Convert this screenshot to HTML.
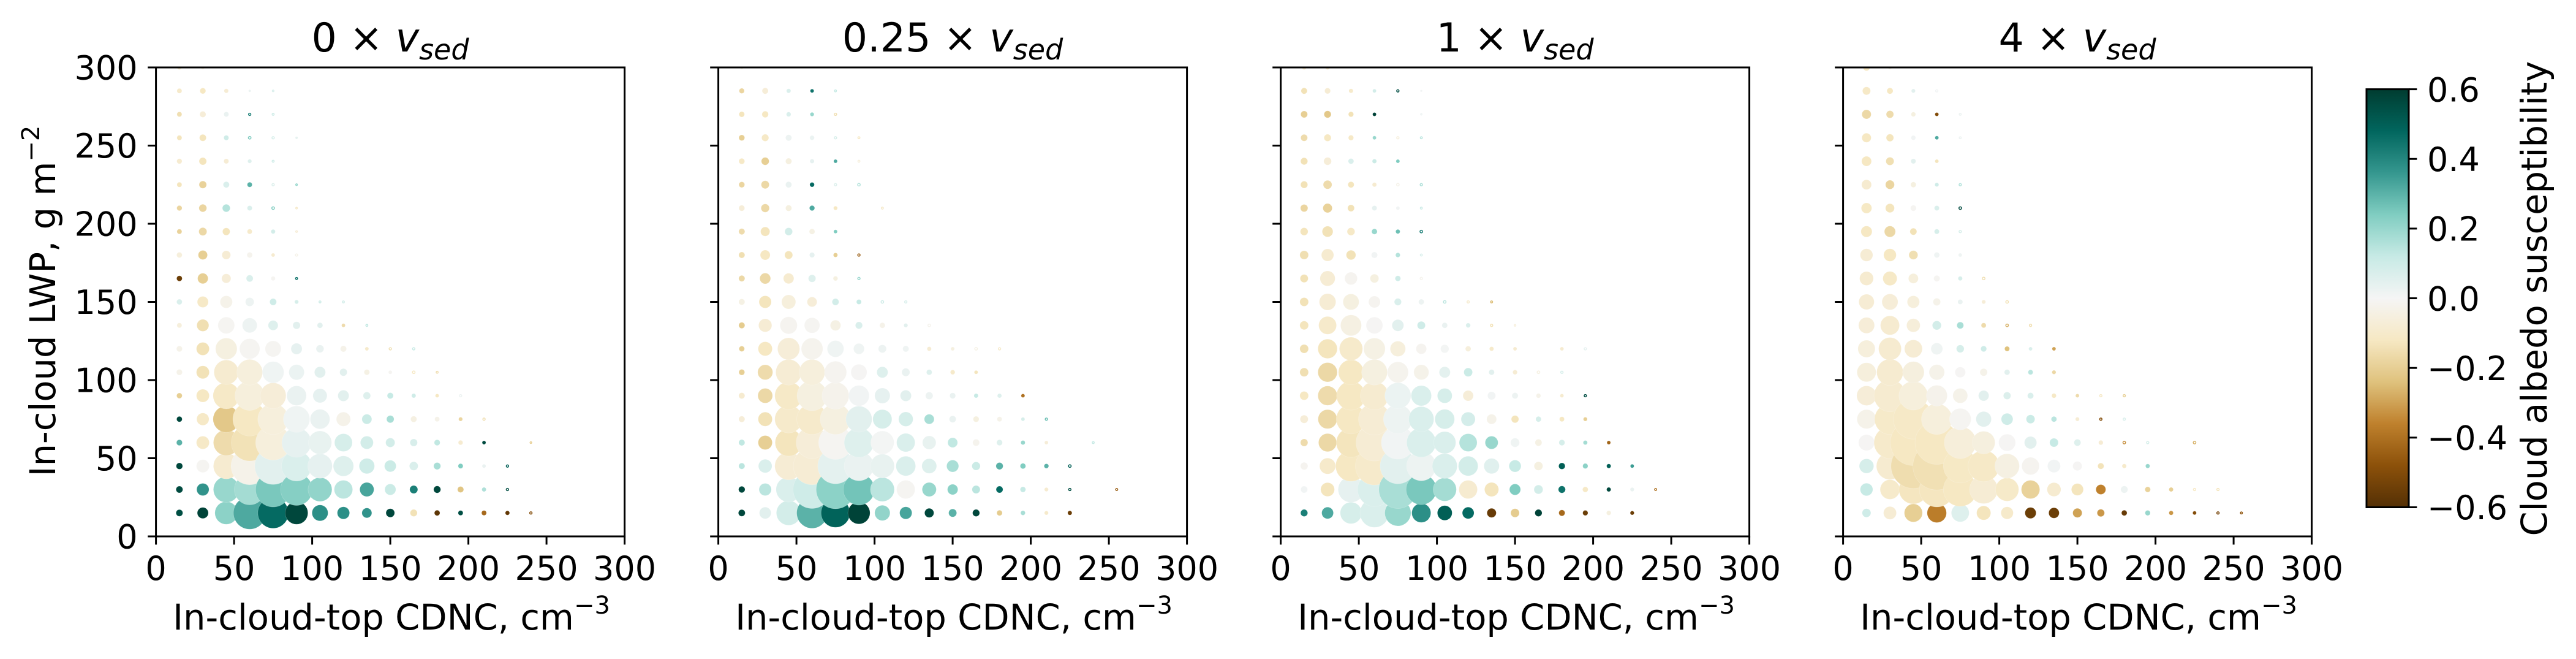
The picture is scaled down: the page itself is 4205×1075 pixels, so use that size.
<!DOCTYPE html>
<html lang="en">
<head>
<meta charset="utf-8">
<title>Cloud albedo susceptibility</title>
<style>
html,body{margin:0;padding:0;background:#fff;width:4205px;height:1075px;overflow:hidden}
svg{display:block}
text{font-family:"DejaVu Sans","Liberation Sans",sans-serif;fill:#000}
</style>
</head>
<body>
<svg id="fig" xmlns="http://www.w3.org/2000/svg" width="4205" height="1075" viewBox="0 0 4205 1075">
<rect x="0" y="0" width="4205" height="1075" fill="#fff"/>
<defs>
<linearGradient id="cbarGrad" x1="0" y1="1" x2="0" y2="0"></linearGradient>
<clipPath id="clip0"><rect x="254.6" y="110" width="765" height="765"/></clipPath>
<clipPath id="clip1"><rect x="1172.6" y="110" width="765" height="765"/></clipPath>
<clipPath id="clip2"><rect x="2090.6" y="110" width="765" height="765"/></clipPath>
<clipPath id="clip3"><rect x="3008.6" y="110" width="765" height="765"/></clipPath>
</defs>
<g id="panels"></g>
<text x="637" y="84" text-anchor="middle" font-size="65">0 × <tspan font-style="italic">v</tspan><tspan font-style="italic" font-size="46" dy="13">sed</tspan></text>
<text x="1555" y="84" text-anchor="middle" font-size="65">0.25 × <tspan font-style="italic">v</tspan><tspan font-style="italic" font-size="46" dy="13">sed</tspan></text>
<text x="2473" y="84" text-anchor="middle" font-size="65">1 × <tspan font-style="italic">v</tspan><tspan font-style="italic" font-size="46" dy="13">sed</tspan></text>
<text x="3391" y="84" text-anchor="middle" font-size="65">4 × <tspan font-style="italic">v</tspan><tspan font-style="italic" font-size="46" dy="13">sed</tspan></text>
<text x="639" y="1027" text-anchor="middle" font-size="57.5">In-cloud-top CDNC, cm<tspan font-size="40" dy="-26">−3</tspan></text>
<text x="1557" y="1027" text-anchor="middle" font-size="57.5">In-cloud-top CDNC, cm<tspan font-size="40" dy="-26">−3</tspan></text>
<text x="2475" y="1027" text-anchor="middle" font-size="57.5">In-cloud-top CDNC, cm<tspan font-size="40" dy="-26">−3</tspan></text>
<text x="3393" y="1027" text-anchor="middle" font-size="57.5">In-cloud-top CDNC, cm<tspan font-size="40" dy="-26">−3</tspan></text>
<text transform="translate(90,491) rotate(-90)" text-anchor="middle" font-size="57.5">In-cloud LWP, g m<tspan font-size="40" dy="-26">−2</tspan></text>
<g id="cbar"></g>
<text transform="translate(4157,487) rotate(-90)" text-anchor="middle" font-size="57.5">Cloud albedo susceptibility</text>
</svg>
<script>
const cdncBins = [15,30,45,60,75,90,105,120,135,150,165,180,195,210,225,240,255];
const lwpBins = [15,30,45,60,75,90,105,120,135,150,165,180,195,210,225,240,255,270,285,300];
const xTickLabels = [0,50,100,150,200,250,300];
const yTickLabels = [0,50,100,150,200,250,300];
const cbarTickLabels = [-0.6,-0.4,-0.2,0.0,0.2,0.4,0.6];
const brbgColormap = ['#543005','#8c510a','#bf812d','#dfc27d','#f6e8c3','#f5f5f5','#c7eae5','#80cdc1','#35978f','#01665e','#003c30'];

const occurrence0x = [
[1.21,3.24,13.7,28.1,25,13.7,6.76,4,2.56,1.96,1.32,.81,.64,.64,.49,.25],
[1.21,4,17.6,25,32.5,27,15.2,9,5.29,3.24,1.69,1.32,1,.49,.25],
[1.1,4.41,17.6,37.2,36,24,16,10.9,6.25,3.61,1.96,1.32,.64,.36,.25],
[.9,4.41,17.6,36,32.5,23,14.4,8.41,4.41,2.25,1.44,.9,.56,.36,0,.16],
[.81,4,18.5,30.3,25,18.5,10.2,5.29,2.56,1.44,1,.64,.42,.25],
[.81,4.41,18.5,23,17.6,10.2,5.29,3.24,1.44,1,.49,.36,.25],
[.9,4.41,16,17.6,12.3,6.25,3.24,1.44,.81,.36,.3,.2],
[.9,4.41,12.3,10.9,6.76,3.24,1.56,1,.36,.25,.25],
[.64,3.8,7.29,5.76,2.56,1.44,.81,.36,.2],
[.81,3.24,4,1.96,1.21,.42,.2,.2],
[.81,2.89,2.25,1.21,.49,.2],
[.81,2.25,1.96,.81,.36,.25],
[.64,1.69,1.44,.64,.49,.16],
[.72,1.56,1.56,.64,.3,.16],
[.64,1.44,1,.64,.25,.16],
[.72,1.44,.64,.42,.2],
[.64,1.21,.64,.3,.25,.12],
[.64,1,.64,.25,.2],
[.64,.9,.49,.12,.16],
[.49,.36,.09,.09]
];
const susceptibility0x = [
[.55,.58,.22,.32,.47,.57,.38,.38,.37,.57,-.14,-.58,.55,-.42,-.57,-.5],
[.56,.37,.2,.18,.25,.23,.21,.14,.33,.11,.42,.57,-.23,.16,.55],
[.57,-.01,-.09,-.03,.05,.07,.04,.06,.1,.11,.07,.17,.24,.03,.5],
[.3,-.11,-.16,-.14,-.06,.04,.035,.08,.09,.09,.075,.13,-.09,.56,0,-.2],
[.57,-.11,-.22,-.12,-.06,.015,.03,-.03,.11,.17,-.045,-.03,-.18,-.15],
[-.2,-.12,-.11,-.06,-.07,.03,.04,.05,.06,.12,.1,-.12,.02],
[-.03,-.14,-.09,-.06,.015,.025,.05,.05,-.04,-.01,-.12,-.15],
[-.03,-.14,-.05,-.01,-.01,.04,.03,-.03,-.1,-.15,.12],
[-.06,-.15,-.01,.02,.06,.05,.05,-.16,.13],
[.07,-.11,-.03,.02,.1,.08,.1,.09],
[-.55,-.2,-.07,.07,-.01,.45],
[-.06,-.2,-.08,-.02,-.09,-.03],
[-.19,-.17,-.13,-.1,.09,-.08],
[-.18,-.18,.15,.07,.24,-.1],
[-.13,-.19,.07,.3,.06,.2],
[-.09,-.13,-.08,.06,.1],
[-.13,-.13,.1,.25,.08,.05],
[-.15,-.07,.03,.42,.1],
[-.1,-.12,-.08,.03,.07],
[-.1,-.05,-.05,-.1]
];

const occurrence025x = [
[1.21,3.61,16,25,22.1,13,6.25,4,2.25,1.69,1.32,.81,.56,.42,.49],
[1.1,4,16.8,38.4,39.7,26,15.2,9,5.29,2.89,1.69,1.21,.81,.42,.25,0,.2],
[1,4.84,20.3,37.2,33.6,23,15.2,10.2,5.76,3.8,1.82,1.32,.81,.56,.3],
[1,5.29,19.4,27,30.3,23,14.4,9,4.84,2.56,1.21,.9,.49,.36,0,.2],
[1,5.29,20.3,25,25,18.1,9.61,5.52,2.56,1.21,.9,.64,.36,.25],
[1,5.76,20.3,24,19.4,11.2,6.25,3.24,1.44,.9,.49,.49,.36],
[.9,6,17.6,17.6,13,6.76,3.24,1.69,.81,.56,.36],
[.81,5.29,13,12.3,7.29,3.06,1.69,1,.49,.36,.3,.25],
[1,4.62,7.84,6.25,2.89,1.32,.81,.42,.3],
[1,4,5.29,2.56,1.21,.64,.3,.25],
[1,3.06,2.89,1.44,.56,.25],
[1,2.56,1.69,.72,.49,.25],
[1,2.25,1.56,.81,.36],
[.9,1.82,1,.72,.42,0,.2],
[.9,1.69,1,.56,.25,.3],
[.9,1.56,1,.49,.36,.2],
[.9,1.32,1,.56,.25,.2],
[.81,1.1,.56,.42,.25],
[.72,1,.49,.36,.2],
[.25,0,.04]
];
const susceptibility025x = [
[.57,.05,.09,.3,.49,.58,.21,.33,.57,.3,.57,-.21,.17,-.1,-.55],
[.57,.14,.07,.1,.22,.26,.14,-.01,.2,.22,.14,.47,.12,-.09,.55,0,-.45],
[.14,.07,-.08,-.08,.045,.03,.035,.07,.06,.17,.11,.3,.24,.3,.5],
[.13,-.2,-.13,-.07,-.01,.06,.005,.07,.035,.13,-.02,.06,.2,-.07,0,.12],
[-.07,-.14,-.1,-.1,-.05,.05,.08,.08,.17,.03,-.05,-.03,.08,.27],
[-.09,-.17,-.11,-.05,-.025,.01,.04,.05,.02,.03,.12,.06,-.4],
[-.2,-.16,-.08,-.06,-.015,-.005,.06,.03,.06,-.1,-.13],
[-.2,-.12,-.07,-.02,.015,.015,.02,.015,-.08,-.05,-.04,-.1],
[-.21,-.08,-.015,-.01,-.04,.07,-.03,.05,-.02],
[-.04,-.13,-.06,-.07,.09,.12,.1,.07],
[-.17,-.17,-.09,.06,-.05,.2],
[-.15,-.12,-.13,.04,-.2,-.45],
[-.16,-.13,.09,-.04,.24],
[-.07,-.17,-.05,.32,-.12,0,-.1],
[-.18,-.17,.03,.47,.06,.15],
[-.11,-.2,-.05,.04,.32,-.06],
[-.2,-.11,.02,.025,.08,-.12],
[-.13,-.12,.07,.2,-.15],
[-.18,-.07,.07,.45,.12],
[-.05,0,.03]
];

const occurrence1x = [
[1.32,3.61,12.3,22.1,18.1,9.61,5.76,3.61,2.25,1.96,1.32,1,.72,.56,.42],
[1.21,5.06,17.6,30.3,38.4,24.5,14.4,9,5.29,3.24,2.1,1.32,.81,.49,.42,.2],
[1.44,6.76,25,38.4,33.6,23,16.4,10.2,6.25,3.8,1.96,1.1,.72,.49,.36],
[1.44,8.7,23,36,29.2,22.6,13,8.41,4.41,2.1,1.21,.9,.49,.36],
[1.69,9.61,23,27,22.1,16.8,10.2,5.29,2.56,1.44,.81,.64,.42],
[1.96,9.92,22.1,21.2,18.1,10.9,5.76,2.89,1.69,1,.56,.36,.25],
[1.96,9.92,16.8,17.6,11.6,6,3.24,1.96,.81,.56,.3,.25],
[1.96,9.92,14.4,12.3,6.25,2.89,1.82,.81,.49,.36,0,.36,.25],
[1.96,8.41,11.6,7.29,3.61,1.69,.81,.56,.25,.16],
[1.96,7.29,6.76,3.61,1.32,.81,.3,.25,.2],
[1.69,6,4.2,1.96,.81,.25],
[1.96,4,2.4,1,.56,.2],
[1.56,3.06,1.56,.81,.49,.3],
[1.44,2.25,1.21,.64,.36,.2],
[1.32,1.96,1,.49,.3,.25],
[1.32,1.56,.81,.49,.36],
[1.21,1.32,.72,.36,.25,.2],
[1.21,1.32,.72,.36,0,.12],
[1,.9,.49,.36,.25,.09],
[.49,.49]
];
const susceptibility1x = [
[.42,.32,.08,.07,.2,.38,.5,.47,-.56,-.21,.58,-.42,-.55,-.05,-.55],
[.01,-.13,.04,.07,.17,.25,.18,-.09,-.13,.24,.09,.45,-.11,.57,.03,-.4],
[-.015,-.1,-.12,-.1,.05,.02,.07,.09,.055,.12,-.05,.5,.22,.5,.35],
[-.16,-.17,-.13,-.08,.01,.07,.07,.15,.2,.015,-.04,.08,.18,-.43],
[-.07,-.17,-.12,-.08,.02,.07,.08,.085,-.03,-.13,.08,-.12,-.2],
[-.12,-.16,-.12,-.09,.025,.07,.08,-.07,.01,.02,-.03,-.09,.55],
[-.15,-.17,-.12,-.05,-.02,-.03,.045,.11,.05,-.08,-.05,.08],
[-.15,-.13,-.1,-.04,-.06,-.015,.005,-.06,-.1,-.09,0,-.09,.04],
[-.13,-.1,-.045,-.005,.05,.1,.03,.07,-.14,-.06],
[-.14,-.08,-.05,-.015,.07,.02,.14,-.09,-.25],
[-.14,-.08,-.015,-.05,.1,-.02],
[-.15,-.09,-.14,.01,.15,.07],
[-.13,-.14,-.11,.2,.27,.42],
[-.18,-.19,-.14,.04,.01,.1],
[-.14,-.16,-.13,-.09,-.03,.16],
[-.14,-.07,.07,.11,.24],
[-.16,-.12,-.11,.2,-.06,.14],
[-.2,-.22,-.14,.58,0,.02],
[-.14,-.08,-.1,.09,.55,.01],
[-.1,-.1]
];

const occurrence4x = [
[1.96,4.41,8.7,9.92,8.41,5.29,4,3.24,2.89,2.25,1.44,.81,.72,.49,.36,.25,.2],
[4.2,10.2,22.1,32.5,30.3,21.2,14.4,9,5.06,3.8,2.56,1.32,.81,.49,.25,.25],
[5.52,19.4,53.3,60.8,30.3,26,16,8.12,4.41,2.25,1,.49,.49],
[6.76,27,56.3,50.4,27,13.7,7.56,4,1.96,1.21,.56,.3,.25,0,.3],
[9.61,25,42.3,25,12.3,6.25,3.61,1.96,.81,.42,.25,.25],
[10.2,27,22.1,11.6,5.76,2.89,1.44,1,.56,.36,.25,.25],
[9.61,18.5,12.3,6.25,2.89,1.44,.81,.64,.42],
[7.84,13.7,8.41,3.61,1.56,.9,.64,.36,.36],
[6.76,9.61,4.84,2.1,1.21,.64,.3,.25],
[6.25,6.76,4,1.44,.64,.42,.3],
[5.06,5.29,2.56,1,.49,.3],
[4.2,4.2,2.1,.81,.36],
[3.24,3.24,1.21,.64,.25],
[2.89,2.1,.9,.64,.3],
[2.56,2.1,.81,.42,.25],
[2.56,1.69,.64,.36],
[2.25,1.44,.56,.36,.2],
[2.25,1.44,.56,.36,.2],
[1.69,1,.42,.25],
[1.21,.36]
];
const susceptibility4x = [
[.1,-.08,-.2,-.37,.06,-.13,-.1,-.55,-.55,-.3,-.32,-.56,.2,-.32,-.5,-.53,-.47],
[.12,-.1,-.125,-.125,-.12,-.08,-.105,-.19,-.09,-.13,-.36,.02,-.19,-.2,-.12,-.13],
[.08,-.09,-.155,-.145,-.115,-.11,-.045,-.015,.01,-.005,-.135,-.1,.2],
[-.005,-.1,-.12,-.12,-.065,-.055,-.005,.05,.12,.06,-.08,-.33,.08,0,-.27],
[-.03,-.105,-.11,-.06,-.01,.05,.1,.11,.14,-.08,-.5,.07],
[-.07,-.09,-.06,-.025,-.03,.05,.065,.07,-.11,-.16,-.11,-.2],
[-.06,-.09,-.055,-.03,-.005,-.03,.05,.14,-.17],
[-.06,-.09,-.08,.015,.08,.1,-.24,.07,-.3],
[-.07,-.09,-.065,.09,.17,-.16,-.27,-.15],
[-.08,-.07,-.06,-.03,.03,-.07,-.14],
[-.09,-.11,-.06,-.01,.08,-.15],
[-.08,-.12,-.15,.015,.015],
[-.12,-.17,-.14,.08,.08],
[-.115,-.13,-.01,.07,.56],
[-.09,-.18,-.05,.1,.15],
[-.12,-.15,.05,-.13],
[-.12,-.13,.01,.32,.02],
[-.17,-.16,-.05,-.5,.02],
[-.11,-.12,.05,.01],
[-.12,-.05]
];

const SVGNS = 'http://www.w3.org/2000/svg';
const panelLefts = [254.6,1172.6,2090.6,3008.6];
const panelIds = ['0x','025x','1x','4x'];
const occurrenceByPanel = [occurrence0x,occurrence025x,occurrence1x,occurrence4x];
const susceptibilityByPanel = [susceptibility0x,susceptibility025x,susceptibility1x,susceptibility4x];
const axTop = 110, axBottom = 875, axSize = 765, axMax = 300, tickLen = 13.4, spine = 3;
const cbLeft = 3863, cbRight = 3932, cbTop = 145.6, cbBottom = 827.5, cbMin = -0.6, cbMax = 0.6;

function mk(tag, attrs, parent){
  const el = document.createElementNS(SVGNS, tag);
  for (const k in attrs) el.setAttribute(k, attrs[k]);
  parent.appendChild(el);
  return el;
}
function xScale(left, v){ return left + v / axMax * axSize; }
function yScale(v){ return axBottom - v / axMax * axSize; }
function diameter(f){ return 10 * Math.sqrt(f); }
function hexToRgb(h){ return [1,3,5].map(i => parseInt(h.substr(i,2),16)); }
function colorFor(v){
  const t = Math.max(0, Math.min(1, (v - cbMin) / (cbMax - cbMin))) * (brbgColormap.length - 1);
  const i = Math.min(Math.floor(t), brbgColormap.length - 2);
  const a = hexToRgb(brbgColormap[i]), b = hexToRgb(brbgColormap[i + 1]), w = t - i;
  return 'rgb(' + a.map((c, k) => Math.round(c + (b[k] - c) * w)).join(',') + ')';
}

const panelsG = document.getElementById('panels');
panelLefts.forEach((left, p) => {
  const g = mk('g', {}, panelsG);
  
  

  const pts = mk('g', {'clip-path': 'url(#clip' + p + ')'}, g);
  
  

  const freq = occurrenceByPanel[p];
  const susc = susceptibilityByPanel[p];
  cdncBins.forEach((cdnc, c) => {
    lwpBins.forEach((lwp, r) => {
      const f = freq[r][c];
      if (!(f > 0)) return;
      const d = diameter(f);
      const col = colorFor(susc[r][c]);
      const ring = d < 5.6;
      const dot = mk('circle', {
        cx: xScale(left, cdnc).toFixed(2),
        cy: yScale(lwp).toFixed(2),
        r: (ring ? d / 2 - 0.6 : d / 2).toFixed(2),
        fill: ring ? '#ffffff' : col,
        stroke: ring ? col : '#ffffff',
        'stroke-width': ring ? 1.5 : 0.7,
        'stroke-opacity': ring ? 1 : 0.25
      }, pts);
      
      
    });
  });

  const frame = mk('rect', {x: left, y: axTop, width: axSize, height: axSize, fill: 'none', stroke: '#000', 'stroke-width': spine}, g);
  
  

  xTickLabels.forEach(t => {
    const x = xScale(left, t);
    const tick = mk('line', {x1: x, x2: x, y1: axBottom, y2: axBottom + tickLen, stroke: '#000', 'stroke-width': spine}, g);
    
    
    const lab = mk('text', {x: x, y: 946, 'text-anchor': 'middle', 'font-size': 54}, g);
    
    
    lab.textContent = t;
  });
  yTickLabels.forEach(t => {
    const y = yScale(t);
    const tick = mk('line', {x1: left - tickLen, x2: left, y1: y, y2: y, stroke: '#000', 'stroke-width': spine}, g);
    
    
    if (p === 0) {
      const lab = mk('text', {x: 224.6, y: y + 19.7, 'text-anchor': 'end', 'font-size': 54}, g);
      
      
      lab.textContent = t;
    }
  });
});

const grad = document.getElementById('cbarGrad');
brbgColormap.forEach((c, i) => {
  mk('stop', {offset: i / (brbgColormap.length - 1), 'stop-color': c}, grad);
});
const cbar = document.getElementById('cbar');
const cbFill = mk('rect', {x: cbLeft, y: cbTop, width: cbRight - cbLeft, height: cbBottom - cbTop, fill: 'url(#cbarGrad)', stroke: '#000', 'stroke-width': spine}, cbar);


cbarTickLabels.forEach(t => {
  const y = cbBottom - (t - cbMin) / (cbMax - cbMin) * (cbBottom - cbTop);
  const tick = mk('line', {x1: cbRight, x2: cbRight + tickLen, y1: y, y2: y, stroke: '#000', 'stroke-width': spine}, cbar);
  
  
  const lab = mk('text', {x: 3962, y: y + 19.7, 'font-size': 54}, cbar);
  
  
  lab.textContent = (t < 0 ? '−' : '') + Math.abs(t).toFixed(1);
});
</script>
</body>
</html>
